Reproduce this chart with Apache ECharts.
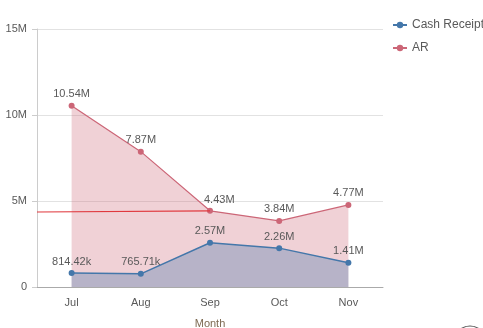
<!DOCTYPE html>
<html><head><meta charset="utf-8">
<script src="https://cdn.jsdelivr.net/npm/echarts@6/dist/echarts.min.js"></script>
<style>html,body{margin:0;padding:0;background:#fff}#c{width:483px;height:328px}</style>
</head><body><div id="c"></div>
<script>
const months = ['Jul','Aug','Sep','Oct','Nov'];
const cashReceipt = [814420, 765710, 2570000, 2260000, 1410000];
const ar = [10540000, 7870000, 4430000, 3840000, 4770000];
const refLine = [[-0.5, 4360000], [2, 4430000]];
const yTicks = [0, 5000000, 10000000, 15000000];

function fmt(v){ return v >= 1e6 ? (v/1e6).toFixed(2)+'M' : (v/1e3).toFixed(2)+'k'; }
const txt = '#595959';
const font = 'Liberation Sans';

const chart = echarts.init(document.getElementById('c'), null, {renderer:'canvas'});
chart.setOption({
  animation:false,
  textStyle:{fontFamily:font},
  grid:{left:37, right:100, top:29, bottom:41, outerBoundsMode:'none', containLabel:false},
  legend:{
    orient:'vertical', left:392, top:19, padding:0, itemGap:11, itemWidth:14, itemHeight:8,
    textStyle:{color:txt, fontSize:12, fontFamily:font, overflow:'none'},
    data:['Cash Receipt','AR']
  },
  xAxis:[{
    type:'category', data:months, boundaryGap:true,
    name:'Month', nameLocation:'middle', nameGap:31,
    nameTextStyle:{color:'#7d6a52', fontSize:11},
    axisLine:{lineStyle:{color:'#aaaaaa'}}, axisTick:{show:false},
    axisLabel:{color:txt, fontSize:11, margin:10}
  },{
    type:'value', min:-0.5, max:4.5, show:false
  }],
  yAxis:{
    type:'value', min:yTicks[0], max:yTicks[yTicks.length-1], interval:5000000,
    axisLine:{show:true, onZero:false, lineStyle:{color:'#cccccc'}},
    axisTick:{show:true, length:5, lineStyle:{color:'#cccccc'}},
    splitLine:{lineStyle:{color:'#e2e2e2'}},
    axisLabel:{color:txt, fontSize:11, margin:10, formatter:v=> v===0?'0':(v/1e6)+'M'}
  },
  series:[{
    name:'Cash Receipt', type:'line', data:cashReceipt, z:4,
    symbol:'circle', symbolSize:6,
    itemStyle:{color:'#4477aa'}, lineStyle:{color:'#4477aa', width:1.5},
    areaStyle:{color:'#4477aa', opacity:0.33},
    label:{show:true, position:'top', distance:3, color:txt, fontSize:11, formatter:p=>fmt(p.value)}
  },{
    name:'AR', type:'line', z:2,
    data: ar.map((v,i)=> i===2 ? {value:v, label:{position:'right', offset:[-12,-11]}} : v),
    symbol:'circle', symbolSize:6,
    itemStyle:{color:'#cc6677'}, lineStyle:{color:'#cc6677', width:1.2},
    areaStyle:{color:'#cc6677', opacity:0.3},
    label:{show:true, position:'top', distance:3, color:txt, fontSize:11, formatter:p=>fmt(p.value)}
  },{
    name:'ref', type:'line', xAxisIndex:1, data:refLine, z:3,
    symbol:'none', lineStyle:{color:'#e0393e', width:1.2}, silent:true
  }],
  graphic:[{type:'circle', shape:{cx:470, cy:342, r:16}, style:{fill:'none', stroke:'#555', lineWidth:1.2}}]
});
</script></body></html>
